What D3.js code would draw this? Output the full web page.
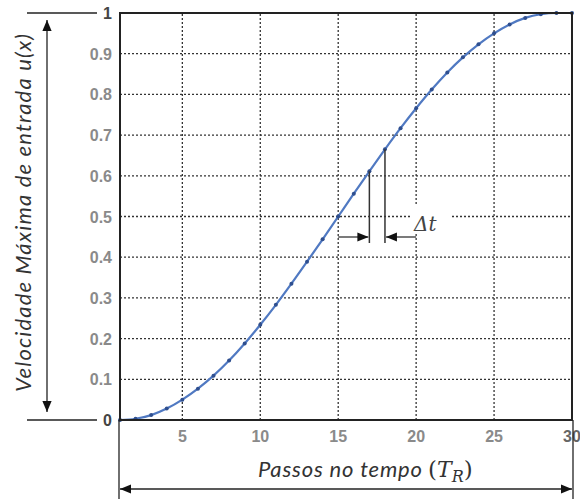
<!DOCTYPE html>
<html>
<head>
<meta charset="utf-8">
<script src="https://cdn.jsdelivr.net/npm/d3@7/dist/d3.min.js"></script>
<style>
  html, body { margin: 0; padding: 0; background: #fff; }
  svg { display: block; }
</style>
</head>
<body>
<div id="chart"></div>
<script>
// time steps (T_R) and the input velocity profile sampled at each step
var steps = d3.range(1, 31);
var velocity = [0, 0.003, 0.012, 0.028, 0.050, 0.077, 0.109, 0.146, 0.188, 0.234,
                0.283, 0.335, 0.389, 0.444, 0.500, 0.556, 0.611, 0.665, 0.717, 0.766,
                0.812, 0.854, 0.891, 0.923, 0.950, 0.972, 0.988, 0.997, 1.000, 1.000];
var xTicks = [5, 10, 15, 20, 25, 30];
var yTicks = [0, 0.1, 0.2, 0.3, 0.4, 0.5, 0.6, 0.7, 0.8, 0.9, 1];
// steps marked by the Δt annotation, and where its arrows start
var deltaSteps = [17, 18];
var arrowFrom = [15, 20];

var width = 580, height = 501;

var svg = d3.select("#chart").append("svg")
  .attr("width", width)
  .attr("height", height);

var defs = svg.append("defs");
defs.append("marker")
  .attr("id", "head")
  .attr("viewBox", "0 0 10 10")
  .attr("refX", 10).attr("refY", 5)
  .attr("markerWidth", 11).attr("markerHeight", 11)
  .attr("markerUnits", "userSpaceOnUse")
  .attr("orient", "auto-start-reverse")
  .append("path")
  .attr("d", "M0,0.8 L10,5 L0,9.2 Z")
  .attr("fill", "#111");

var x = d3.scaleLinear().domain([1, 30]).range([120, 572]);
var y = d3.scaleLinear().domain([0, 1]).range([420, 13]);

var ink = "#222";

// dotted grid
var grid = svg.append("g");
grid.selectAll(".vgrid")
  .data(xTicks.filter(d => d < 30))
  .enter().append("line")
  .attr("x1", d => x(d)).attr("x2", d => x(d))
  .attr("y1", y(0)).attr("y2", y(1))
  .attr("stroke", "#333")
  .attr("stroke-width", 1.3)
  .attr("stroke-dasharray", "2,2");
grid.selectAll(".hgrid")
  .data(yTicks.filter(d => d > 0 && d < 1))
  .enter().append("line")
  .attr("x1", x(1)).attr("x2", x(30))
  .attr("y1", d => y(d)).attr("y2", d => y(d))
  .attr("stroke", "#333")
  .attr("stroke-width", 1.3)
  .attr("stroke-dasharray", "2,2");

// tick labels
svg.append("g").selectAll("text")
  .data(yTicks)
  .enter().append("text")
  .attr("x", 112)
  .attr("y", d => y(d) + 6)
  .attr("text-anchor", "end")
  .attr("font-family", "Liberation Sans, Arial, sans-serif")
  .attr("font-size", 16)
  .attr("font-weight", "bold")
  .attr("fill", d => (d === 0 || d === 1) ? "#444" : "#8a8a8a")
  .text(d => d);

svg.append("g").selectAll("text")
  .data(xTicks)
  .enter().append("text")
  .attr("x", d => x(d))
  .attr("y", 442)
  .attr("text-anchor", "middle")
  .attr("font-family", "Liberation Sans, Arial, sans-serif")
  .attr("font-size", 16)
  .attr("font-weight", "bold")
  .attr("fill", d => d === 30 ? "#666" : "#8a8a8a")
  .text(d => d);

// curve and step markers
var line = d3.line()
  .x((d, i) => x(steps[i]))
  .y(d => y(d))
  .curve(d3.curveMonotoneX);

svg.append("path")
  .datum(velocity)
  .attr("d", line)
  .attr("fill", "none")
  .attr("stroke", "#5079c2")
  .attr("stroke-width", 2.2);

svg.append("g").selectAll("circle")
  .data(velocity)
  .enter().append("circle")
  .attr("cx", (d, i) => x(steps[i]))
  .attr("cy", d => y(d))
  .attr("r", 2)
  .attr("fill", "#2f4f8f");

// plot frame
svg.append("rect")
  .attr("x", x(1)).attr("y", y(1))
  .attr("width", x(30) - x(1))
  .attr("height", y(0) - y(1))
  .attr("fill", "none")
  .attr("stroke", ink)
  .attr("stroke-width", 2);

// Δt annotation
var ann = svg.append("g");
var annY = 237;
deltaSteps.forEach(s => {
  ann.append("line")
    .attr("x1", x(s)).attr("x2", x(s))
    .attr("y1", y(velocity[s - 1])).attr("y2", annY + 6)
    .attr("stroke", "#333")
    .attr("stroke-width", 1.5);
});
deltaSteps.forEach((s, i) => {
  ann.append("line")
    .attr("x1", x(arrowFrom[i])).attr("x2", x(s) + (i === 0 ? -1 : 1))
    .attr("y1", annY).attr("y2", annY)
    .attr("stroke", "#333")
    .attr("stroke-width", 1.3)
    .attr("marker-end", "url(#head)");
});
ann.append("rect")
  .attr("x", 410).attr("y", 206)
  .attr("width", 40).attr("height", 28)
  .attr("fill", "#fff");
ann.append("text")
  .attr("x", 414).attr("y", 231)
  .attr("font-family", "DejaVu Serif, serif")
  .attr("font-style", "italic")
  .attr("font-size", 20)
  .attr("fill", "#444")
  .text("Δt");

// y axis extent: guide lines and double arrow
var guide = svg.append("g").attr("stroke", ink).attr("stroke-width", 1.3);
[1, 0].forEach(v => {
  guide.append("line")
    .attr("x1", 27).attr("x2", 97)
    .attr("y1", y(v)).attr("y2", y(v));
});
guide.append("line")
  .attr("x1", 47).attr("x2", 47)
  .attr("y1", 20).attr("y2", 412)
  .attr("marker-start", "url(#head)")
  .attr("marker-end", "url(#head)");

svg.append("text")
  .attr("transform", "translate(31,213) rotate(-90)")
  .attr("text-anchor", "middle")
  .attr("font-family", "Lato, sans-serif")
  .attr("font-style", "italic")
  .attr("font-size", 22)
  .attr("textLength", 358)
  .attr("lengthAdjust", "spacing")
  .attr("fill", "#333")
  .text("Velocidade Máxima de entrada u(x)");

// x axis extent: side lines and double arrow
var xguide = svg.append("g").attr("stroke", ink).attr("stroke-width", 1.3);
xguide.append("line")
  .attr("x1", x(1) - 1).attr("x2", x(1) - 1)
  .attr("y1", y(0)).attr("y2", 499);
xguide.append("line")
  .attr("x1", x(30) + 1).attr("x2", x(30) + 1)
  .attr("y1", y(0)).attr("y2", 499);
xguide.append("line")
  .attr("x1", x(1)).attr("x2", x(30))
  .attr("y1", 489).attr("y2", 489)
  .attr("marker-start", "url(#head)")
  .attr("marker-end", "url(#head)");

var xl = svg.append("text")
  .attr("x", 258)
  .attr("y", 477)
  .attr("font-family", "Lato, sans-serif")
  .attr("font-style", "italic")
  .attr("font-size", 22)
  .attr("fill", "#333");
xl.append("tspan").attr("textLength", 164).attr("lengthAdjust", "spacing").text("Passos no tempo");
xl.append("tspan").attr("x", 428).attr("font-family", "DejaVu Serif, serif").attr("font-style", "normal").attr("font-size", 23).text("(");
xl.append("tspan").attr("font-family", "DejaVu Serif, serif").attr("font-size", 22).text("T");
xl.append("tspan").attr("font-family", "DejaVu Serif, serif").attr("font-size", 16).attr("dy", 5).text("R");
xl.append("tspan").attr("font-family", "DejaVu Serif, serif").attr("font-style", "normal").attr("font-size", 23).attr("dy", -5).text(")");
</script>
</body>
</html>
